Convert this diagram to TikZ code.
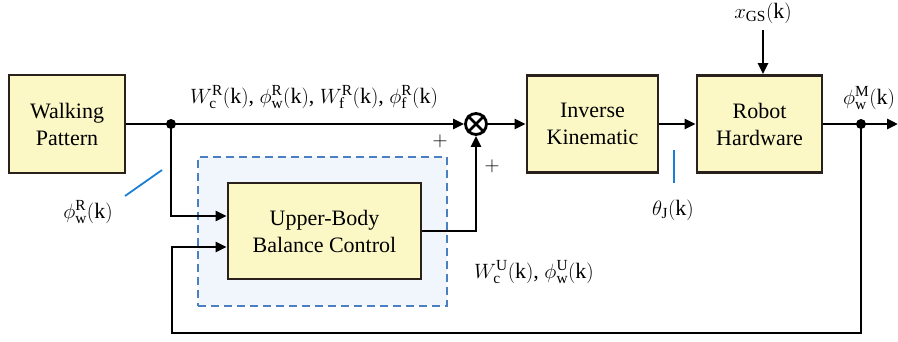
\documentclass[tikz,border=0pt]{standalone}
\usepackage{fontspec}
\setmainfont{Liberation Serif}
\usetikzlibrary{arrows.meta,calc}
\definecolor{boxfill}{HTML}{FBF8C6}
\definecolor{boxdraw}{HTML}{2A211C}
\definecolor{dashblue}{HTML}{4A80C2}
\definecolor{dashfill}{HTML}{F1F6FC}
\definecolor{lblue}{HTML}{1A7FD4}
\tikzset{
  blockbox/.style={draw=boxdraw,fill=boxfill,line width=2.8pt,align=center,font=\fontsize{22}{27}\selectfont,inner sep=0pt},
  conn/.style={line width=2.8pt,-{Triangle[length=11pt,width=10pt]}},
  plainline/.style={line width=2.8pt},
  lbl/.style={font=\fontsize{22}{26}\selectfont,inner sep=1pt},
  pointer/.style={draw=lblue,line width=1.8pt},
}
\newcommand{\rmk}{(\mathrm{k})}
\begin{document}
\begin{tikzpicture}[x=1pt,y=-1pt]
\useasboundingbox (0,0) rectangle (898,341);
% dashed region
\node[draw=dashblue,fill=dashfill,dash pattern=on 8pt off 5pt,line width=2.4pt,minimum width=249pt,minimum height=149pt,inner sep=0pt] (region) at (322.5,231.5) {};
% blocks
\node[blockbox,minimum width=116pt,minimum height=98pt] (wp) at (67,124) {Walking\\Pattern};
\node[blockbox,minimum width=131pt,minimum height=97pt] (ik) at (592.5,124) {Inverse\\Kinematic};
\node[blockbox,minimum width=125pt,minimum height=97pt] (rh) at (759.5,124) {Robot\\Hardware};
\node[blockbox,minimum width=193pt,minimum height=96pt] (ub) at (324.5,231) {Upper-Body\\Balance Control};
% summation
\node[draw,circle,line width=2.8pt,minimum size=21pt,inner sep=0pt] (sum) at (476,124) {};
\draw[line width=2.8pt] (sum.north east) -- (sum.south west) (sum.north west) -- (sum.south east);
% junctions
\coordinate (j1) at (171,124);
\coordinate (j2) at (861,124);
\fill (j1) circle (5pt);
\fill (j2) circle (5pt);
\coordinate (xin) at (763,30);
\coordinate (outend) at (898,124);
\coordinate (fb1) at (861,333);
\coordinate (fb2) at (172,333);
\coordinate (fb3) at (172,247);
\coordinate (ubin2) at (ub.west |- fb3);
\coordinate (dn) at (171,216);
\coordinate (ubin1) at (ub.west |- dn);
\coordinate (ubout) at (ub.east |- 0,231);
\coordinate (up) at (476,231);
% connectors
\draw[plainline] (wp.east) -- (j1);
\draw[conn] (j1) -- (sum.west);
\draw[conn] (sum.east) -- (ik.west);
\draw[conn] (ik.east) -- (rh.west);
\draw[conn] (xin) -- (xin |- rh.north);
\draw[plainline] (rh.east) -- (j2);
\draw[conn] (j2) -- (outend);
\draw[conn] (j1) -- (dn) -- (ubin1);
\draw[conn] (j2) -- (fb1) -- (fb2) -- (fb3) -- (ubin2);
\draw[conn] (ubout) -- (up) -- (sum.south);
% labels
\node[lbl] (lR) at (314,97) {$W_{\mathrm{c}}^{\mathrm{R}}\rmk$, $\phi_{\mathrm{w}}^{\mathrm{R}}\rmk$, $W_{\mathrm{f}}^{\mathrm{R}}\rmk$, $\phi_{\mathrm{f}}^{\mathrm{R}}\rmk$};
\node[lbl] (p1) at (440,141) {$+$};
\node[lbl] (p2) at (492,166) {$+$};
\node[lbl] (lphi) at (88,212) {$\phi_{\mathrm{w}}^{\mathrm{R}}\rmk$};
\coordinate (pa1) at (125,196);
\coordinate (pa2) at (162,170);
\draw[pointer] (pa1) -- (pa2);
\node[lbl] (lth) at (673,210) {$\theta_{\mathrm{J}}\rmk$};
\coordinate (pb1) at (674,150);
\coordinate (pb2) at (674,183);
\draw[pointer] (pb1) -- (pb2);
\node[lbl] (lx) at (763,13) {$x_{\mathrm{GS}}\rmk$};
\node[lbl] (lM) at (869,98) {$\phi_{\mathrm{w}}^{\mathrm{M}}\rmk$};
\node[lbl] (lU) at (534,272) {$W_{\mathrm{c}}^{\mathrm{U}}\rmk$, $\phi_{\mathrm{w}}^{\mathrm{U}}\rmk$};
\end{tikzpicture}
\end{document}
